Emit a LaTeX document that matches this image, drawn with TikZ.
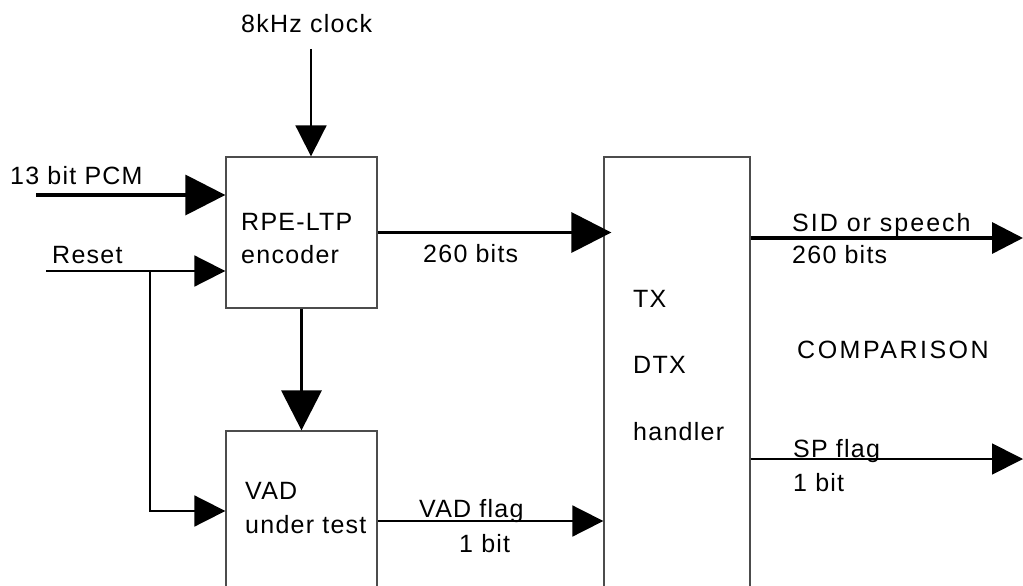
\documentclass[tikz,border=0pt]{standalone}
\usepackage{fontspec}
\setmainfont[LetterSpace=5]{Liberation Sans}
\usetikzlibrary{arrows.meta,positioning}

\begin{document}
\begin{tikzpicture}[
  x=1pt, y=-1pt,
  block/.style={rectangle, draw=black!70, line width=1.3pt, inner sep=0pt},
  txt/.style={anchor=base west, inner sep=0pt, font=\fontsize{25}{30}\selectfont},
  sig/.style={line width=1.8pt, -{Triangle[length=31pt,width=31pt]}},
  frame/.style={line width=3.5pt, -{Triangle[length=40pt,width=40pt]}},
  frameout/.style={line width=3.5pt, -{Triangle[length=31pt,width=31pt]}}
]
\useasboundingbox (0,0) rectangle (1023,586);

% Blocks
\node[block, minimum width=151pt, minimum height=151pt] (enc) at (301.5,232.5) {};
\node[block, minimum width=151pt, minimum height=160pt] (vad) at (301.5,511) {};
\node[block, minimum width=146pt, minimum height=443pt] (tx)  at (677,378.5) {};

% Block texts
\node[txt] (encA) at (241,230) {RPE-LTP};
\node[txt] (encB) at (241,263) {encoder};
\node[txt] (vadA) at (245,499) {VAD};
\node[txt] (vadB) at (245,533) {under test};
\node[txt] (txA)  at (633,307) {TX};
\node[txt] (txB)  at (633,373) {DTX};
\node[txt] (txC)  at (633,440) {handler};

% Inputs
\node[txt] (clklbl) at (241,33) {8kHz clock};
\coordinate (clk) at (311,49);
\draw[sig] (clk) -- (clk |- enc.north);

\node[txt] (pcmlbl) at (10,184) {13 bit PCM};
\coordinate (pcm) at (36,195);
\draw[frame] (pcm) -- (pcm -| enc.west);

\node[txt] (rstlbl) at (52,263) {Reset};
\coordinate (rst)   at (46,271);
\coordinate (rstbr) at (150,271);
\draw[sig] (rst) -- (rst -| enc.west);
\draw[sig] (rstbr) |- (vad.west);

% Encoder to VAD and TX
\draw[frame] (enc.south) -- (vad.north);
\draw[frame] (enc.east) -- ([xshift=8pt]enc.east -| tx.west);
\node[txt] (encbits) at (423,262) {260 bits};

\coordinate (vf) at ([yshift=-10pt]vad.east);
\draw[sig] (vf) -- (vf -| tx.west);
\node[txt] (vflbl) at (419,517) {VAD flag};
\node[txt] (vfbit) at (459,552) {1 bit};

% Outputs
\coordinate (sid) at (1023,238);
\draw[frameout] (tx.east |- sid) -- (sid);
\node[txt, font=\fontsize{25}{30}\selectfont\addfontfeature{LetterSpace=8}] (sidlbl)  at (792,231) {SID or speech};
\node[txt] (sidbits) at (792,263) {260 bits};

\node[txt, font=\fontsize{25}{30}\selectfont\addfontfeature{LetterSpace=10}] (cmp) at (797,358) {COMPARISON};

\coordinate (sp) at (1023,459);
\draw[sig] (tx.east |- sp) -- (sp);
\node[txt] (splbl) at (793,457) {SP flag};
\node[txt] (spbit) at (793,491) {1 bit};
\end{tikzpicture}
\end{document}
